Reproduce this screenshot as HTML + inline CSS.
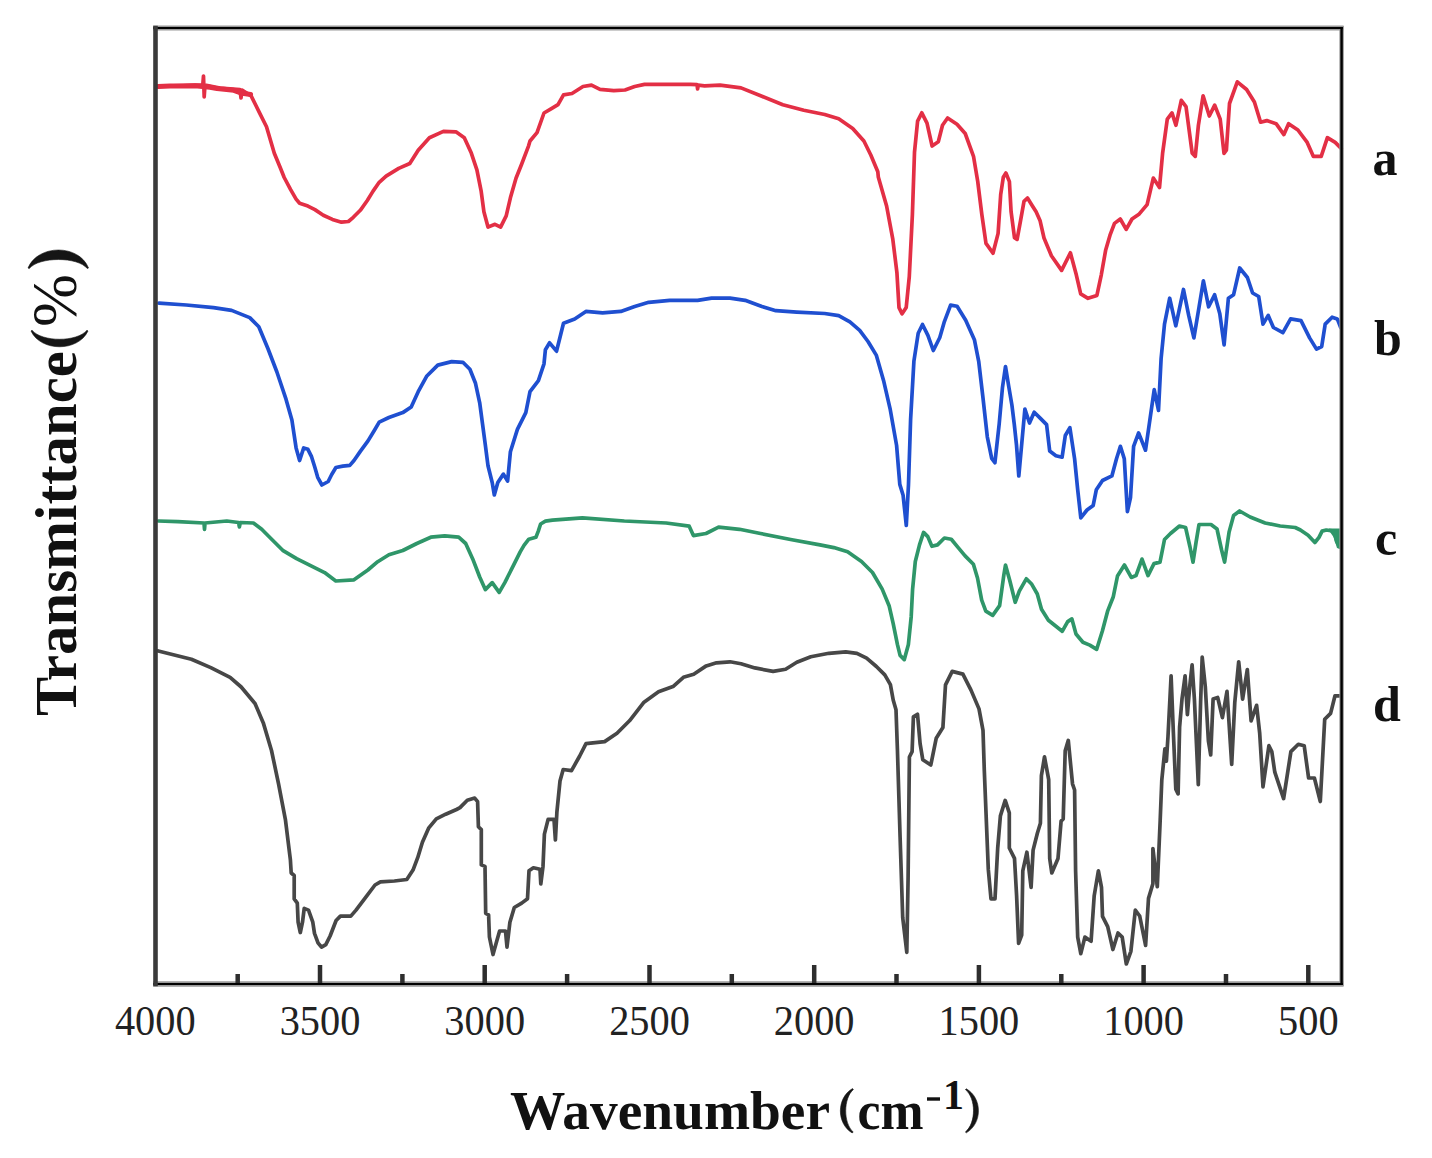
<!DOCTYPE html>
<html><head><meta charset="utf-8"><style>
html,body{margin:0;padding:0;background:#fff;}
body{width:1432px;height:1158px;overflow:hidden;}
svg{display:block;}
.tl{font-family:"Liberation Serif",serif;font-size:42.5px;fill:#222;text-anchor:middle;}
.bl{font-family:"Liberation Serif",serif;font-weight:bold;fill:#111;}
</style></head><body>
<svg width="1432" height="1158" viewBox="0 0 1432 1158">
<rect width="1432" height="1158" fill="#fff"/>
<g fill="none" stroke-width="3.7" stroke-linejoin="round" stroke-linecap="round">
<polyline stroke="#e32f45" points="157.8,86.4 181,85.6 202.8,84.9 203.5,76 204.2,97 205,85 220,88 240,89.5 241,98 242,90 251,95.7 258.8,111.3 266.5,126.8 274.3,153.2 280,167 284.2,177.5 290.5,189.3 296.1,199.1 299.6,203.3 307.9,206.1 314.9,209.6 323.3,215.2 332.4,219.4 341.5,222.2 348.4,221.5 353.3,217.3 360.3,210.3 367.3,200.5 372.9,191.4 379.2,182.3 386.1,176.1 398.7,168.4 409.8,163.5 418.2,150.3 429.4,137.7 443.4,131.4 455.9,131.8 464.3,137.7 471.3,153.1 476.9,169.8 481.1,190.8 483.9,211.7 488,227.1 495,224.3 500.6,227.1 506.2,215.9 510.4,197.8 516,178.2 521.6,164.2 528.5,146.1 530,141 537,132.6 544,113 551,108.9 558,104.7 563.5,94.9 572,93.5 583,86.5 591.5,85.1 600,89.3 613.8,90.7 625,90 634.7,86.5 644.5,84.4 669.7,84.4 690.6,84.4 697,84.6 697.6,89 698.2,85.2 704.6,85.8 720,85.1 741,87.9 761.9,96.3 782.8,104.7 803.8,110.3 824.7,114.5 838.7,118.7 852.7,128.4 863.9,141 870.8,155 877.8,171.7 878.3,177 886.6,206 892.8,239.2 896.9,272.4 899,307.6 902.1,313.8 906.2,307.6 909.3,276.5 912.4,214.3 914.5,152.2 917.6,121.1 921.8,112.8 927,123.2 932.1,146 938.3,141.8 942.5,125.2 947.6,118 957,124.2 965.2,133.5 973.5,156.3 977.7,181.2 981.8,214.3 986,243.4 993,253.3 998.1,233.4 1000.7,194.5 1003.3,177.3 1005.9,173 1009.4,181.6 1011.1,211.8 1014.5,237.7 1017.1,239.4 1020.6,220.4 1024,201.4 1027.5,198 1031.8,204.9 1036.1,211.8 1040,220.4 1044,238 1051.4,255.7 1061.6,270.4 1070.4,252.8 1076.3,274.8 1080.7,293.9 1088,298.3 1096.9,295.4 1101.3,274.8 1105.7,249.9 1110,235.2 1114.5,223.4 1120.3,219 1126.2,229.3 1132,219 1139.3,213.9 1147.1,204.6 1153.3,178.1 1159.5,187.5 1162.6,153.3 1167.3,119.1 1172,112.9 1175.9,125.3 1181.3,100.4 1186,106.6 1192.2,153.3 1195.3,156.4 1198.4,125.3 1203.1,95.8 1209.3,116 1214.7,105.1 1220.2,119.1 1224,153.3 1226.4,150.2 1229.5,103.5 1237.3,81.8 1246.6,89.5 1254.4,102 1260.6,122.2 1266.8,120.6 1276.1,123.7 1283.9,134.6 1288.6,123.7 1297.9,130 1307.2,142.4 1313.4,156.4 1321.2,156.4 1327.4,137.7 1335.2,142.4 1341.4,148.6"/>
<polyline stroke="#e32f45" stroke-width="5" points="158,86.6 170,86 183.5,86.1 195,85.7 210,87.2 217,88.6 233.8,90.3 242.2,93.3 250.6,94.5"/>
<polyline stroke="#1f4fd0" points="159,303.1 186.3,305 213.5,307.7 231.6,310.4 249.7,317.6 258.8,326.7 267.9,348.5 276.9,372 286,399.2 291.9,420 294,434 296.1,447.9 299.6,460.5 303.7,447.9 307.9,449.3 311.4,456.3 314.9,467.5 317.7,477.3 321.9,485 328.2,481.5 331.7,474.5 335.9,467.5 342.8,466.1 349.8,465.4 354,460.5 360.3,451.4 368,440.9 374.3,430.5 379.2,422.1 388.9,417.5 402.8,412.6 411.2,407 418.2,391.7 426.6,376.3 437.8,365.1 451.7,361.6 462.9,362.3 469.9,369.3 475.5,383.3 479.7,402.8 482.5,423.8 485.3,444.7 488,465.7 492.2,482.5 494.3,495 497.8,482.5 503.4,474.1 507.6,481.1 510.4,451.7 517.4,429.4 525.8,412.6 530,391.7 538.4,380.6 544,363.8 545.4,349.8 549.6,342.8 556.5,351.2 560.7,334.5 563.5,323.3 574.7,319.1 585.9,311.4 602.6,312.8 620.8,311.4 634.7,306.5 648.7,302.3 669.7,300.3 697.6,300.3 711.6,298.2 730,298.2 745.1,300.3 761.9,306.5 775.9,310.7 796.8,312.1 824.7,313.5 838.7,315.6 849.9,321.9 859.7,330.3 868,341.5 876.4,355.4 883.6,380.7 890.1,408.8 896.6,445.5 899.8,484.4 903.1,495.2 906.3,525.5 908.5,484.4 910.6,419.6 913.9,361.3 918.2,333.2 922.5,324.5 927.9,335.3 933.3,350.5 939.8,337.5 944.1,322.4 950.6,305.1 957.1,306.2 965.7,320.2 974.4,339.7 978.7,361.3 983,398 987.3,436.8 991.7,458.4 994.9,462.7 999.2,423.9 1002.5,387.2 1005.5,366.5 1008.5,385 1011.9,405 1014.3,424.4 1016.5,445 1018.8,476 1021.8,443.2 1024.9,409 1029.5,423 1034.2,412.2 1040.4,418.4 1046.6,424.6 1049.7,451 1055.9,455.7 1062.1,457.2 1065.3,435.5 1069.9,427.7 1074.6,458.8 1077.7,489.8 1080.8,517.8 1087,510 1093.2,505.4 1096.3,489.8 1102.5,480.5 1111.9,475.9 1116.5,458.8 1120.4,446.3 1124.3,458.8 1127.4,511.6 1130.5,497.6 1133.6,446.3 1138.6,432.9 1145.5,450.2 1149,426 1154.2,389.7 1158.5,410.4 1161.1,358.6 1164.5,324.1 1169.7,298.2 1175.8,325.8 1183.5,289.5 1188.7,315.4 1193.9,337.9 1199.1,306.8 1203.4,280.9 1208.6,306.8 1214.6,294.7 1219.8,313.7 1224.1,344.8 1228.4,298.2 1233.6,294.7 1239.7,268 1247.4,277.5 1252.6,293 1258.7,296.5 1263,324.1 1268.2,315.4 1273.4,327.5 1282.9,332.7 1290.6,318.9 1301,320.6 1309.6,337.9 1316.5,349.1 1321.7,346.5 1325.2,324.1 1332.1,317.2 1337.3,318.9 1340.7,327.5"/>
<polyline stroke="#2f9669" points="158.4,521 177.9,521.6 204,523 204.5,529.3 205,523 226.8,521 238.5,522.5 239.4,527 240.3,522.5 253.4,523 261.7,529.3 272.9,540.5 282.7,550.3 296.6,558.7 310.6,565.6 324.6,572.6 335.8,581 354,579.8 367.9,570 377.7,561.7 388.9,554.7 402.8,550.5 416.8,543.5 430.8,537.2 444.7,535.8 458.7,537.2 465.7,543.5 472.7,558.9 479.7,577 485.3,589.6 492.2,582.6 499.2,592.4 504.8,582.6 513.2,565.9 520.2,551.9 524,545.4 528.8,539.2 535.9,537.3 538.3,531.1 540.6,524 545.4,521.2 552.5,520.2 582.4,517.8 624.3,521 666.2,523 689.2,526.2 693.4,535.6 706,533.5 718.6,527.2 739.5,529.3 760.5,533.5 791.9,539.8 820,544.9 833.8,547.6 847.6,551.8 861.5,561.5 872.5,572.5 882.2,589.1 889.1,605.7 893.2,623.6 897.4,644.4 900.1,655.4 904.3,659.6 908.4,644.4 911.2,616.7 912.6,589.1 915.3,561.5 919.5,544.9 923.6,532.4 927.8,536.6 931.9,546.3 937.5,544.9 944.4,538 951.3,539.3 958.2,547.6 965.1,555.9 973.4,564.2 977.5,578 981.7,600.1 985.8,611.2 992.7,615.3 999.6,605.7 1003.8,575.3 1005.5,565 1009.7,580.2 1015.2,602.3 1019.3,591.2 1026.3,578.8 1031.8,584.3 1037.3,594 1041.5,609.2 1048.4,620.2 1055.3,625.8 1062.2,631.3 1067.7,621.6 1071.9,618.9 1076,634 1082.9,642.3 1089.8,645.1 1096.7,649.3 1102.3,631.3 1107.8,610.6 1113.3,596.7 1117.5,576 1124.4,565 1131.3,577.4 1136,575.6 1142,559.1 1148,575.6 1154,563.6 1160,562.1 1164.5,539.5 1170.5,533.5 1179.5,526 1185.6,527.5 1190,547 1193,562.1 1196,542.6 1199,524.5 1211,524.5 1217,529 1221.6,550 1224.6,562.1 1229.1,532 1233.6,515.5 1239.6,511 1250.1,517 1265.1,523 1280.2,526 1295.2,527.5 1300.4,530 1308.1,535.2 1314.9,542.5 1319,537.3 1322.1,531.1 1326.3,530 1334,531.1 1336.6,541.5 1340,547"/>
<polyline stroke="#474747" points="158.3,651 191.4,659.3 210.8,667.6 230.1,677.3 241.2,687 255,703.5 263.3,722.9 271.5,750.5 278.5,783.6 285.4,819.6 290.4,860 291.2,873 294.2,875.5 294.2,898.9 297.3,903.2 298.1,922.2 300.3,932.5 302.5,922.2 304.2,908.4 308.5,910.1 312.8,922.2 314.5,933.4 318,942.9 321.5,947.2 325.8,944.6 330.1,936 336.1,920.5 340.4,916.1 350.8,916.1 356,910.1 366.4,896.3 375,885 380.4,881.8 394.4,881 406.8,879.5 413,870.1 417.7,857.7 422.4,842.2 428.6,828.2 436.3,818.8 445.7,814.2 456.5,809.5 460,807.6 467.3,800.3 474.7,798.1 477.6,801.7 478.4,826.7 481.3,829.6 481.3,864.9 485,866.4 485.7,913.3 488.6,914.8 489.4,936.8 493,954.5 496.7,941.2 499.6,931 505.5,931 507,947.1 509.9,922.2 514.3,907.5 521.7,903.1 527.5,898.7 529,870.8 533.4,867.8 540,869.3 540.8,884 543,866.4 544.4,834.1 548.1,819.4 554,819.4 555.4,840 556.9,812 560,781 563.2,769.5 571.5,770.6 579.7,756 586,743.6 604.6,741.6 617,733.3 629.5,720.8 644,702.2 658.5,691.8 673,686.6 683.4,677.3 693.7,674.2 706.2,665.9 716.5,662.8 730,661.8 741,663.7 754.9,667.9 773.1,671.4 785.6,669.3 796.8,662.3 810.8,656.8 828.9,653.3 845.7,651.9 856.9,653.3 866.6,658.2 876.4,666.5 884.8,674.9 890.4,684.7 893.2,700 896,709.8 897.4,749 900.1,837.3 902.7,917.5 906.8,952.3 908.1,877.4 909.4,757 912.1,751.7 913.4,716.9 917.5,714.2 920.1,743.6 922.8,759.7 930.8,765 936.2,738.3 942.9,727.6 945.5,684.8 952.2,671.4 962.9,674.1 971,690.1 979,708.9 983,730.3 984.3,770.4 988.3,869.4 991,898.8 995,898.8 997.7,848 1000.4,815.9 1005.2,800.4 1009.3,812.8 1009.3,848 1014.5,858.4 1016.6,895.7 1018.6,943.3 1021.7,935 1022.8,870.8 1026.9,852.2 1031.1,887.4 1033.1,850.1 1037.3,833.5 1040.4,823.2 1041.4,775.6 1044.5,756.9 1048.7,779.7 1049.7,858.4 1051.8,872.9 1058,858.4 1061.1,821.1 1063.2,819 1065.2,750.7 1068.3,740.4 1072.5,783.8 1074.6,790 1075.6,870.8 1077.7,937.1 1080.8,953.6 1084.9,937.1 1091.1,941.2 1094.2,895.7 1098.4,870.8 1101.5,887.4 1102.5,916.4 1107.7,926.7 1112.9,949.5 1118,933 1122.2,937.1 1126.3,964 1130.9,951.3 1135.3,910.2 1139.7,916 1145.6,945.4 1148.5,898.4 1152.9,883.8 1152.9,848.5 1157.3,886.7 1160.2,820 1161.8,780 1164.9,748.8 1166.4,761.2 1168,736.4 1171.1,675.8 1173.4,733.3 1175.8,789.2 1178.1,793.9 1179.6,727.1 1182,699.1 1185.1,675.8 1187.4,714.6 1189.7,686.6 1192.1,664.9 1194.4,699.1 1198.3,784.6 1200.6,702.2 1202.2,657.1 1205.3,686.6 1208.4,741 1210.7,755 1213.1,699.1 1217.7,697.5 1222.4,717.7 1227,691.3 1231.7,764.4 1234.8,702.2 1238.7,661.8 1242.6,699.1 1247.3,669.5 1251.1,720.8 1256.6,705.3 1259.7,733.3 1263,786.8 1268.9,745.7 1271.8,751.6 1274.8,772.2 1283.6,798.6 1290.9,751.6 1298.3,744.3 1304.2,745.7 1308.6,778 1314.4,778 1320.3,801.5 1324.7,719.3 1330.6,713.4 1335,695.8 1339.4,695.8"/>
<polygon fill="#2f9669" stroke="none" points="1329,528.5 1340,528.5 1340,549 1337,548 1333.5,537 1330,532"/>
</g>
<g fill="none">
<line x1="153.2" y1="28" x2="1343.6" y2="28" stroke="#9a9a9a" stroke-width="5"/>
<line x1="153.2" y1="984" x2="1343.6" y2="984" stroke="#9a9a9a" stroke-width="5.5"/>
<line x1="1341.6" y1="26" x2="1341.6" y2="986" stroke="#9a9a9a" stroke-width="4.5"/>
<line x1="153.2" y1="28" x2="1342.8" y2="28" stroke="#000" stroke-width="2.2"/>
<line x1="153.2" y1="984" x2="1342.8" y2="984" stroke="#000" stroke-width="2.2"/>
<line x1="1341.6" y1="27" x2="1341.6" y2="985" stroke="#000" stroke-width="2.4"/>
<line x1="155.5" y1="25.8" x2="155.5" y2="986.2" stroke="#3a3a3a" stroke-width="4.6"/>
</g>
<g stroke="#2e2e2e" stroke-width="4.5">
<line x1="237.7" y1="983" x2="237.7" y2="974" />
<line x1="320.0" y1="983" x2="320.0" y2="965" />
<line x1="402.4" y1="983" x2="402.4" y2="974" />
<line x1="484.7" y1="983" x2="484.7" y2="965" />
<line x1="567.1" y1="983" x2="567.1" y2="974" />
<line x1="649.5" y1="983" x2="649.5" y2="965" />
<line x1="731.8" y1="983" x2="731.8" y2="974" />
<line x1="814.2" y1="983" x2="814.2" y2="965" />
<line x1="896.5" y1="983" x2="896.5" y2="974" />
<line x1="978.9" y1="983" x2="978.9" y2="965" />
<line x1="1061.3" y1="983" x2="1061.3" y2="974" />
<line x1="1143.6" y1="983" x2="1143.6" y2="965" />
<line x1="1226.0" y1="983" x2="1226.0" y2="974" />
<line x1="1308.3" y1="983" x2="1308.3" y2="965" />
</g>
<g class="tl">
<text x="155.3" y="1035.3" transform="translate(155.3,0) scale(0.95,1) translate(-155.3,0)">4000</text>
<text x="320.0" y="1035.3" transform="translate(320.0,0) scale(0.95,1) translate(-320.0,0)">3500</text>
<text x="484.7" y="1035.3" transform="translate(484.7,0) scale(0.95,1) translate(-484.7,0)">3000</text>
<text x="649.5" y="1035.3" transform="translate(649.5,0) scale(0.95,1) translate(-649.5,0)">2500</text>
<text x="814.2" y="1035.3" transform="translate(814.2,0) scale(0.95,1) translate(-814.2,0)">2000</text>
<text x="978.9" y="1035.3" transform="translate(978.9,0) scale(0.95,1) translate(-978.9,0)">1500</text>
<text x="1143.6" y="1035.3" transform="translate(1143.6,0) scale(0.95,1) translate(-1143.6,0)">1000</text>
<text x="1308.3" y="1035.3" transform="translate(1308.3,0) scale(0.95,1) translate(-1308.3,0)">500</text>
</g>
<g class="bl" font-size="50">
<text x="1372.5" y="175">a</text>
<text x="1374" y="355">b</text>
<text x="1375" y="555">c</text>
<text x="1373" y="721">d</text>
</g>
<text class="bl" x="510" y="1128.5" font-size="55" textLength="320" lengthAdjust="spacingAndGlyphs">Wavenumber</text>
<text class="bl" x="857.5" y="1128.5" font-size="55" textLength="66" lengthAdjust="spacingAndGlyphs">cm</text>
<rect x="927" y="1097.3" width="13" height="3.4" fill="#111"/>
<text class="bl" x="943" y="1109.3" font-size="42">1</text>
<g fill="#151515" stroke="#151515" stroke-width="0.6" stroke-linejoin="round">
<path d="M852.5,1088.6 C836.4,1098 836.4,1123.5 852.2,1133 L853.2,1132 C843.2,1123 843.2,1098.5 853.4,1089.4 Z"/>
<path d="M966.3,1088.8 C982.5,1098 982.5,1123.5 966.3,1132.8 L965.4,1132 C976.2,1123 976.2,1098.5 965.4,1089.6 Z"/>
<path d="M31,331 C41,352 78,352 88,331 L87,330.2 C77,342.3 42,342.3 32,330.2 Z"/>
<path d="M28,268 C38,244 79,244 88.5,268 L87.3,268.6 C78,256.5 39,256.5 29.2,268.6 Z"/>
</g>
<g transform="translate(76,716) rotate(-90)">
<text class="bl" x="0" y="0" font-size="60" textLength="365" lengthAdjust="spacingAndGlyphs">Transmittance</text>
<text x="389" y="0" font-size="63" style="font-family:'Liberation Serif',serif" fill="#111" textLength="53" lengthAdjust="spacingAndGlyphs">%</text>
</g>
</svg>
</body></html>
